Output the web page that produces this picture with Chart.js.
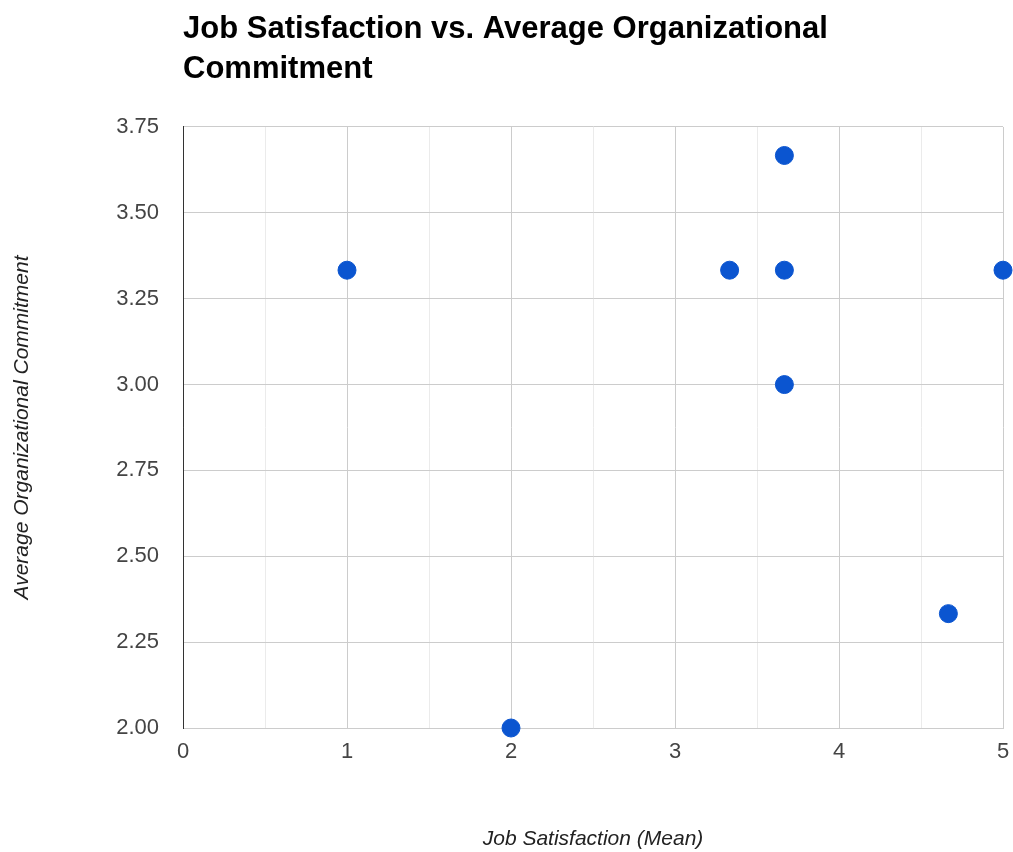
<!DOCTYPE html>
<html>
<head>
<meta charset="utf-8">
<script src="https://cdn.jsdelivr.net/npm/chart.js@4.4.1/dist/chart.umd.min.js"></script>
<style>
  body { margin: 0; background: #fff; }
  #wrap { width: 1013px; height: 852px; position: relative; }
</style>
</head>
<body>
<div id="wrap"><canvas id="scatterChart"></canvas></div>
<script>
// data
const jobSatisfaction = [1, 2, 3.333, 3.667, 3.667, 3.667, 4.667, 5];
const orgCommitment = [3.333, 2.0, 3.333, 3.667, 3.333, 3.0, 2.333, 3.333];
const xTicks = [0, 1, 2, 3, 4, 5];
const yTicks = [2.00, 2.25, 2.50, 2.75, 3.00, 3.25, 3.50, 3.75];

const points = jobSatisfaction.map((x, i) => ({ x: x, y: orgCommitment[i] }));

const FONT = "Arial, 'Liberation Sans', sans-serif";

new Chart(document.getElementById("scatterChart"), {
  type: "scatter",
  data: {
    datasets: [{
      label: "Average Organizational Commitment",
      data: points,
      backgroundColor: "#0b55d0",
      borderColor: "#0b55d0",
      pointRadius: 9,
      pointHoverRadius: 9,
      clip: false
    }]
  },
  options: {
    responsive: true,
    maintainAspectRatio: false,
    animation: false,
    layout: { padding: { top: 0, right: 10, bottom: 0, left: 0 } },
    plugins: {
      legend: { display: false },
      tooltip: { enabled: false },
      title: {
        display: true,
        fullSize: false,
        align: "start",
        text: ["Job Satisfaction vs. Average Organizational", "Commitment"],
        color: "#000",
        font: { family: FONT, size: 31, weight: "bold", lineHeight: 1.29 },
        padding: { top: 9, bottom: 38 }
      }
    },
    scales: {
      x: {
        type: "linear",
        min: xTicks[0],
        max: xTicks[xTicks.length - 1],
        afterFit: s => { s.height = 124; s.paddingRight = 0; },
        ticks: {
          stepSize: 0.5,
          padding: 11,
          color: "#444",
          font: { family: FONT, size: 22 },
          callback: v => (xTicks.includes(v) ? String(v) : "")
        },
        grid: {
          drawTicks: false,
          color: c => {
            if (c.tick && c.tick.value === 0) return "#333";
            return Number.isInteger(c.tick && c.tick.value) ? "#cccccc" : "#ebebeb";
          }
        },
        border: { color: "#cccccc" },
        title: {
          display: true,
          text: "Job Satisfaction (Mean)",
          color: "#222",
          font: { family: FONT, size: 21, style: "italic" },
          padding: { top: 0, bottom: 0 }
        }
      },
      y: {
        type: "linear",
        min: yTicks[0],
        max: yTicks[yTicks.length - 1],
        afterFit: s => { s.width = 183; },
        afterBuildTicks: s => { s.ticks = yTicks.map(v => ({ value: v })); },
        ticks: {
          padding: 24,
          color: "#444",
          font: { family: FONT, size: 22 },
          callback: v => Number(v).toFixed(2)
        },
        grid: { drawTicks: false, color: "#cccccc" },
        border: { color: "#333" },
        title: {
          display: true,
          text: "Average Organizational Commitment",
          color: "#222",
          font: { family: FONT, size: 21, style: "italic" },
          padding: { top: 10, bottom: 0 }
        }
      }
    }
  }
});
</script>
</body>
</html>
